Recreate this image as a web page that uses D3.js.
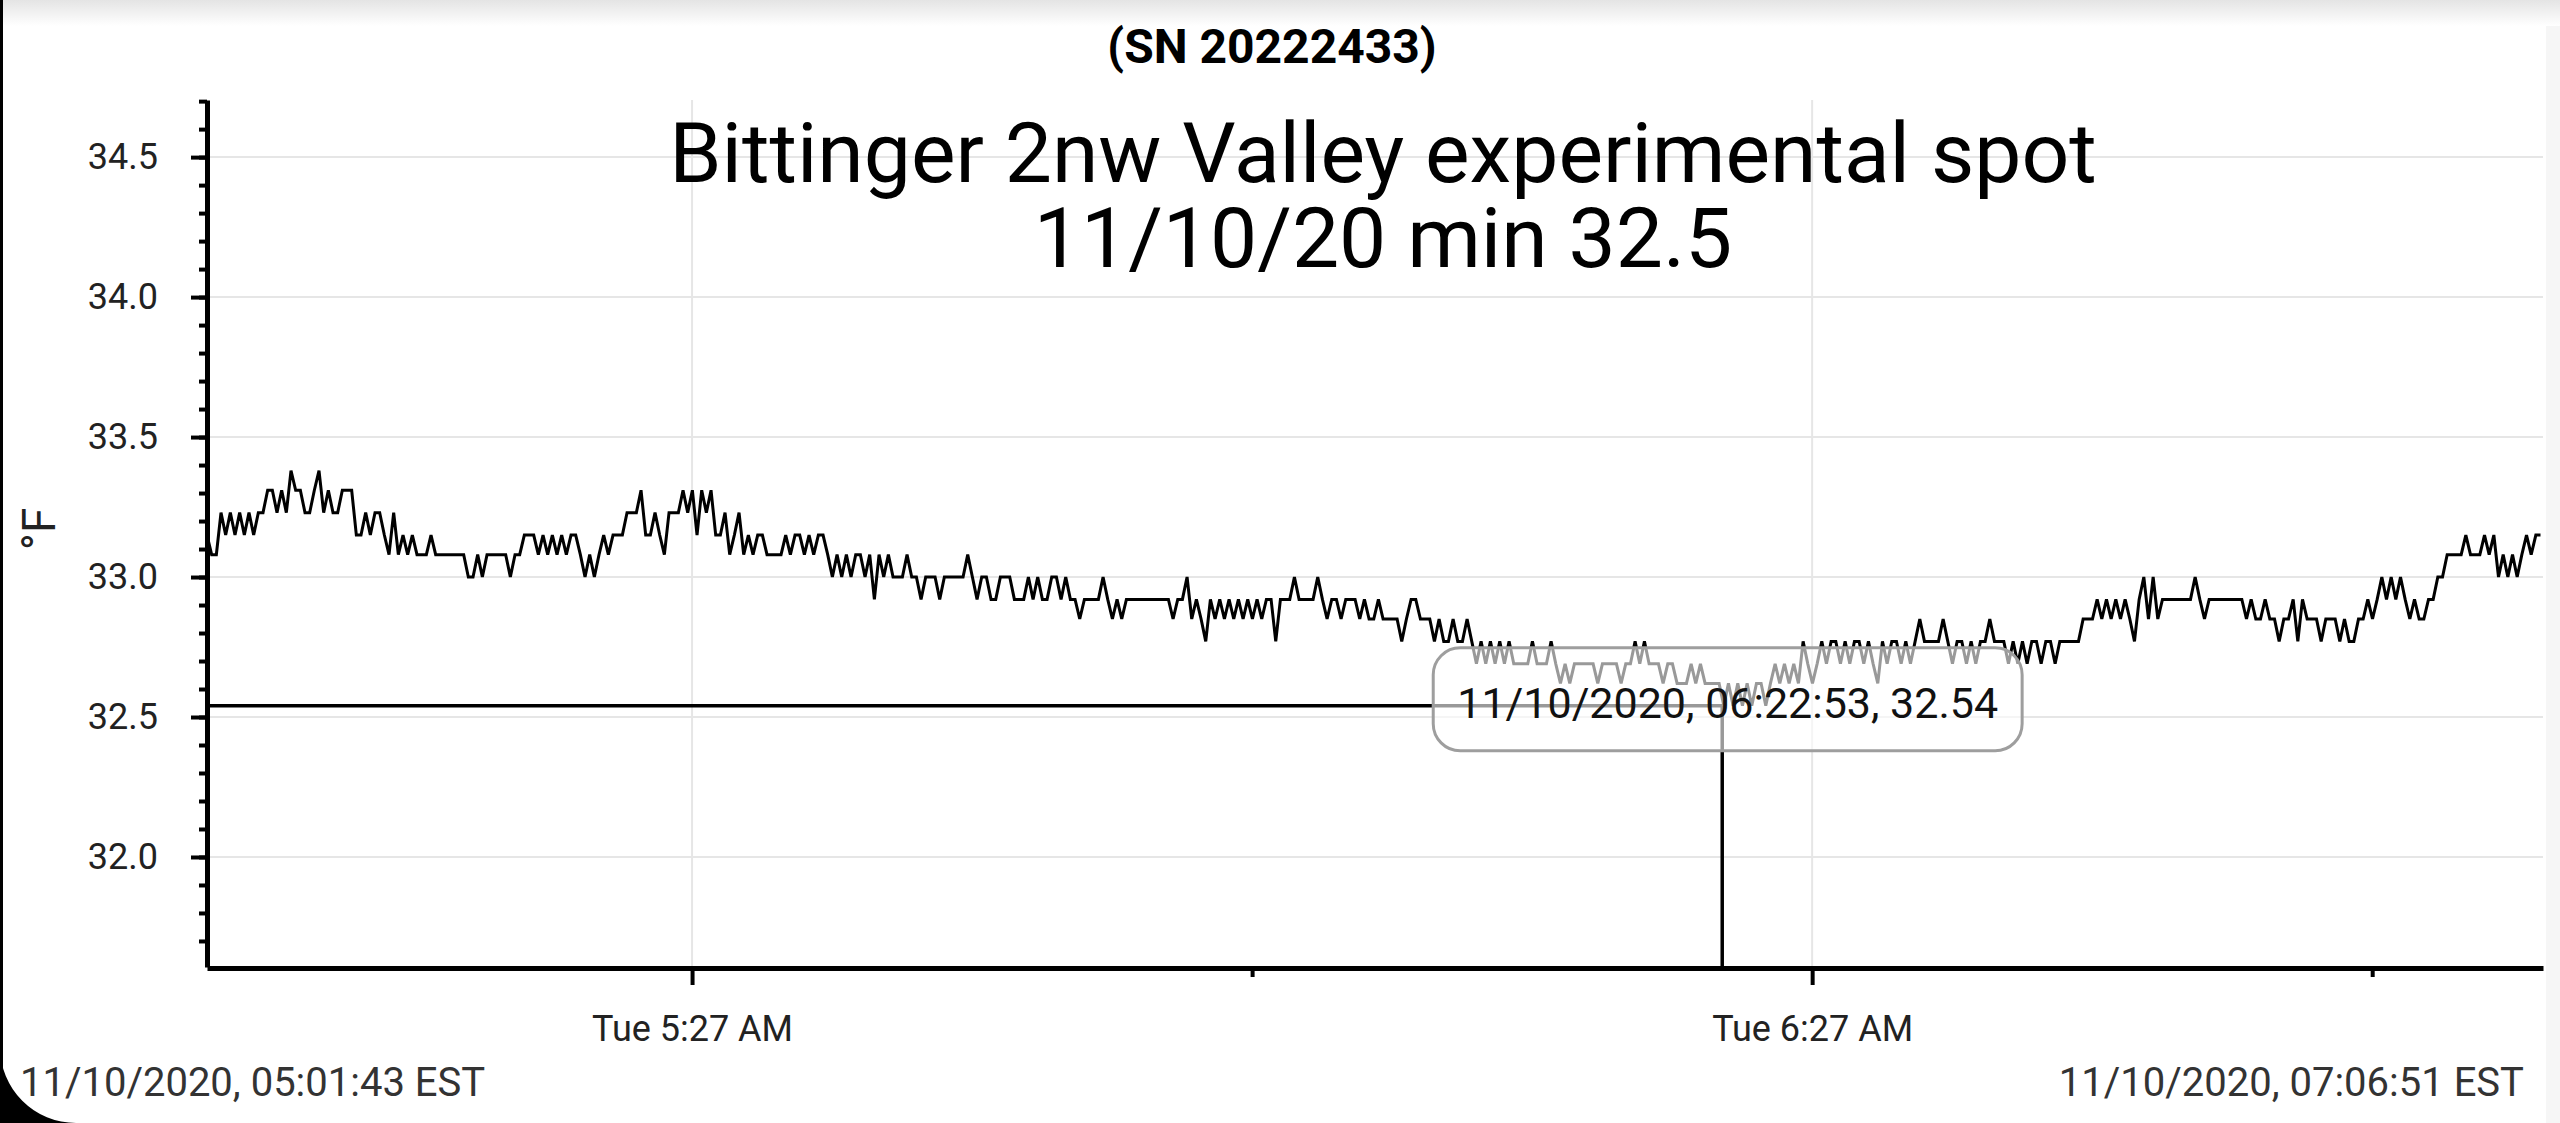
<!DOCTYPE html>
<html>
<head>
<meta charset="utf-8">
<script src="https://cdn.jsdelivr.net/npm/d3@7"></script>
<style>
  html, body { margin: 0; padding: 0; background: #fff; }
  svg { display: block; font-family: Roboto, 'Noto Sans', sans-serif; }
</style>
</head>
<body>
<div id="chart"></div>
<script>
// logger reading, one sample every 15 s
const startTime = '2020-11-10 05:01:43';
const endTime = '2020-11-10 07:06:51';
const stepSeconds = 15;

const tempF = [
  33.15,33.08,33.08,33.23,33.15,33.23,33.15,33.23,33.15,33.23,33.15,33.23,33.23,33.31,33.31,33.23,33.31,33.23,33.38,33.31,33.31,33.23,33.23,33.31,33.38,
  33.23,33.31,33.23,33.23,33.31,33.31,33.31,33.15,33.15,33.23,33.15,33.23,33.23,33.15,33.08,33.23,33.08,33.15,33.08,33.15,33.08,33.08,33.08,33.15,33.08,
  33.08,33.08,33.08,33.08,33.08,33.08,33.00,33.00,33.08,33.00,33.08,33.08,33.08,33.08,33.08,33.00,33.08,33.08,33.15,33.15,33.15,33.08,33.15,33.08,33.15,
  33.08,33.15,33.08,33.15,33.15,33.08,33.00,33.08,33.00,33.08,33.15,33.08,33.15,33.15,33.15,33.23,33.23,33.23,33.31,33.15,33.15,33.23,33.15,33.08,33.23,
  33.23,33.23,33.31,33.23,33.31,33.15,33.31,33.23,33.31,33.15,33.15,33.23,33.08,33.15,33.23,33.08,33.15,33.08,33.15,33.15,33.08,33.08,33.08,33.08,33.15,
  33.08,33.15,33.15,33.08,33.15,33.08,33.15,33.15,33.08,33.00,33.08,33.00,33.08,33.00,33.08,33.08,33.00,33.08,32.92,33.08,33.00,33.08,33.00,33.00,33.00,
  33.08,33.00,33.00,32.92,33.00,33.00,33.00,32.92,33.00,33.00,33.00,33.00,33.00,33.08,33.00,32.92,33.00,33.00,32.92,32.92,33.00,33.00,33.00,32.92,32.92,
  32.92,33.00,32.92,33.00,32.92,32.92,33.00,33.00,32.92,33.00,32.92,32.92,32.85,32.92,32.92,32.92,32.92,33.00,32.92,32.85,32.92,32.85,32.92,32.92,32.92,
  32.92,32.92,32.92,32.92,32.92,32.92,32.92,32.85,32.92,32.92,33.00,32.85,32.92,32.85,32.77,32.92,32.85,32.92,32.85,32.92,32.85,32.92,32.85,32.92,32.85,
  32.92,32.85,32.92,32.92,32.77,32.92,32.92,32.92,33.00,32.92,32.92,32.92,32.92,33.00,32.92,32.85,32.92,32.92,32.85,32.92,32.92,32.92,32.85,32.92,32.85,
  32.85,32.92,32.85,32.85,32.85,32.85,32.77,32.85,32.92,32.92,32.85,32.85,32.85,32.77,32.85,32.77,32.77,32.85,32.77,32.77,32.85,32.77,32.69,32.77,32.69,
  32.77,32.69,32.77,32.69,32.77,32.69,32.69,32.69,32.69,32.77,32.69,32.69,32.69,32.77,32.69,32.62,32.69,32.62,32.69,32.69,32.69,32.69,32.69,32.62,32.69,
  32.69,32.69,32.69,32.62,32.69,32.69,32.77,32.69,32.77,32.69,32.69,32.69,32.62,32.69,32.69,32.62,32.62,32.62,32.69,32.62,32.69,32.62,32.62,32.62,32.62,
  32.54,32.62,32.54,32.62,32.54,32.62,32.54,32.62,32.62,32.54,32.62,32.69,32.62,32.69,32.62,32.69,32.62,32.77,32.69,32.62,32.69,32.77,32.69,32.77,32.77,
  32.69,32.77,32.69,32.77,32.77,32.69,32.77,32.69,32.62,32.77,32.69,32.77,32.77,32.69,32.77,32.69,32.77,32.85,32.77,32.77,32.77,32.77,32.85,32.77,32.69,
  32.77,32.77,32.69,32.77,32.69,32.77,32.77,32.85,32.77,32.77,32.77,32.69,32.77,32.69,32.77,32.69,32.77,32.77,32.69,32.77,32.77,32.69,32.77,32.77,32.77,
  32.77,32.77,32.85,32.85,32.85,32.92,32.85,32.92,32.85,32.92,32.85,32.92,32.85,32.77,32.92,33.00,32.85,33.00,32.85,32.92,32.92,32.92,32.92,32.92,32.92,
  32.92,33.00,32.92,32.85,32.92,32.92,32.92,32.92,32.92,32.92,32.92,32.92,32.85,32.92,32.85,32.85,32.92,32.85,32.85,32.77,32.85,32.85,32.92,32.77,32.92,
  32.85,32.85,32.85,32.77,32.85,32.85,32.85,32.77,32.85,32.77,32.77,32.85,32.85,32.92,32.85,32.92,33.00,32.92,33.00,32.92,33.00,32.92,32.85,32.92,32.85,
  32.85,32.92,32.92,33.00,33.00,33.08,33.08,33.08,33.08,33.15,33.08,33.08,33.08,33.15,33.08,33.15,33.00,33.08,33.00,33.08,33.00,33.08,33.15,33.08,33.15,33.15
];

const yDomain = [31.607, 34.704];
const yMajorTicks = [32.0, 32.5, 33.0, 33.5, 34.0, 34.5];
const xTickTimes = ['2020-11-10 05:27:42', '2020-11-10 05:57:42', '2020-11-10 06:27:42', '2020-11-10 06:57:42'];
const xTickLabeled = [true, false, true, false];

// selected point shown by the crosshair
const cursorTime = '2020-11-10 06:22:53';
const cursorValue = 32.54;

const serial = '(SN 20222433)';
const titleLines = ['Bittinger 2nw Valley experimental spot', '11/10/20 min 32.5'];
const unitLabel = '°F';
const rangeStart = '11/10/2020, 05:01:43 EST';
const rangeEnd = '11/10/2020, 07:06:51 EST';

const W = 2560, H = 1123;
const m = { left: 207, right: 2543, top: 100, bottom: 967 };

const parse = d3.timeParse('%Y-%m-%d %H:%M:%S');
const t0 = parse(startTime);
const data = tempF.map((v, i) => ({ t: new Date(+t0 + i * stepSeconds * 1000), v }));

const x = d3.scaleTime().domain([parse(startTime), parse(endTime)]).range([m.left, m.right]);
const y = d3.scaleLinear().domain(yDomain).range([m.bottom, m.top]);

const svg = d3.select('#chart').append('svg').attr('width', W).attr('height', H);

// phone screenshot frame: top shade, black left edge + rounded corner
const defs = svg.append('defs');
const grad = defs.append('linearGradient').attr('id', 'topShade').attr('x1', 0).attr('x2', 0).attr('y1', 0).attr('y2', 1);
grad.append('stop').attr('offset', 0).attr('stop-color', '#e4e4e4');
grad.append('stop').attr('offset', 1).attr('stop-color', '#ffffff');
svg.append('rect').attr('width', W).attr('height', H).attr('fill', '#fff');
svg.append('rect').attr('x', 2546).attr('y', 0).attr('width', 14).attr('height', H).attr('fill', '#f6f6f6');
svg.append('rect').attr('width', W).attr('height', 26).attr('fill', 'url(#topShade)');
svg.append('rect').attr('x', 0).attr('y', 0).attr('width', 3).attr('height', H).attr('fill', '#000');
svg.append('path').attr('d', `M0,${H - 76} A76,76 0 0 0 76,${H} L0,${H} Z`).attr('fill', '#000');

// grid
const grid = svg.append('g');
yMajorTicks.forEach(v => grid.append('line')
  .attr('x1', m.left).attr('x2', m.right).attr('y1', y(v)).attr('y2', y(v))
  .attr('stroke', '#e6e6e6').attr('stroke-width', 2));
xTickTimes.forEach((s, i) => {
  if (!xTickLabeled[i]) return;
  grid.append('line').attr('x1', x(parse(s))).attr('x2', x(parse(s)))
    .attr('y1', m.top).attr('y2', m.bottom)
    .attr('stroke', '#e6e6e6').attr('stroke-width', 2);
});

// title block
svg.append('text').attr('x', 1272).attr('y', 63).attr('text-anchor', 'middle')
  .attr('font-size', 48).attr('font-weight', 700).attr('fill', '#000').text(serial);
titleLines.forEach((s, i) => svg.append('text')
  .attr('x', 1383).attr('y', 182 + i * 85).attr('text-anchor', 'middle')
  .attr('font-size', 84).attr('fill', '#000').text(s));

// line
svg.append('path').datum(data)
  .attr('fill', 'none').attr('stroke', '#000').attr('stroke-width', 3).attr('stroke-linejoin', 'miter')
  .attr('d', d3.line().x(d => x(d.t)).y(d => y(d.v)));

// crosshair
const cx = x(parse(cursorTime)), cy = y(cursorValue);
svg.append('line').attr('x1', m.left).attr('x2', cx).attr('y1', cy).attr('y2', cy)
  .attr('stroke', '#000').attr('stroke-width', 3.5);
svg.append('line').attr('x1', cx).attr('x2', cx).attr('y1', cy).attr('y2', m.bottom)
  .attr('stroke', '#000').attr('stroke-width', 3.5);

// y axis: minor then major
svg.append('g').attr('transform', `translate(${m.left},0)`)
  .call(d3.axisLeft(y).ticks(30).tickSize(8).tickSizeOuter(0).tickFormat(''))
  .call(g => g.select('.domain').remove())
  .call(g => g.selectAll('line').attr('stroke', '#000').attr('stroke-width', 4));
svg.append('g').attr('transform', `translate(${m.left},0)`)
  .call(d3.axisLeft(y).tickValues(yMajorTicks).tickSize(16).tickPadding(33).tickSizeOuter(0).tickFormat(d3.format('.1f')))
  .call(g => g.select('.domain').attr('stroke', '#000').attr('stroke-width', 5))
  .call(g => g.selectAll('line').attr('stroke', '#000').attr('stroke-width', 4))
  .call(g => g.selectAll('text').attr('font-size', 36).attr('fill', '#222').attr('font-family', 'Roboto'));

// x axis
const tf = d3.timeFormat('%a %-I:%M %p');
svg.append('g').attr('transform', `translate(0,${m.bottom + 1})`)
  .call(d3.axisBottom(x).tickValues(xTickTimes.map(parse)).tickSize(16).tickPadding(31).tickSizeOuter(0)
    .tickFormat((d, i) => xTickLabeled[i] ? tf(d) : ''))
  .call(g => g.select('.domain').attr('stroke', '#000').attr('stroke-width', 5))
  .call(g => g.selectAll('.tick line').attr('stroke', '#000').attr('stroke-width', 4)
    .attr('y2', (d, i) => xTickLabeled[i] ? 17 : 9))
  .call(g => g.selectAll('text').attr('font-size', 36).attr('fill', '#222').attr('font-family', 'Roboto'));

// unit label
svg.append('text').attr('transform', 'translate(39,529) rotate(-90)')
  .attr('text-anchor', 'middle').attr('dominant-baseline', 'central')
  .attr('font-size', 46).attr('fill', '#222').text(unitLabel);

// range labels
svg.append('text').attr('x', 20).attr('y', 1096).attr('font-size', 40).attr('fill', '#333').text(rangeStart);
svg.append('text').attr('x', 2524).attr('y', 1096).attr('text-anchor', 'end')
  .attr('font-size', 40).attr('fill', '#333').text(rangeEnd);

// tooltip
const tipFmt = d3.timeFormat('%m/%d/%Y, %H:%M:%S');
const tip = svg.append('g');
const tipBox = tip.append('rect');
const tipText = tip.append('text').attr('font-size', 43).attr('fill', '#111')
  .text(`${tipFmt(parse(cursorTime))}, ${cursorValue.toFixed(2)}`);
const tw = tipText.node().getComputedTextLength();
const bx = cx - 289, by = cy - 58;
tipBox.attr('x', bx).attr('y', by).attr('width', tw + 48).attr('height', 103).attr('rx', 27)
  .attr('fill', '#fff').attr('fill-opacity', 0.6).attr('stroke', '#9e9e9e').attr('stroke-width', 3);
tipText.attr('x', bx + 24).attr('y', by + 70);
</script>
</body>
</html>
